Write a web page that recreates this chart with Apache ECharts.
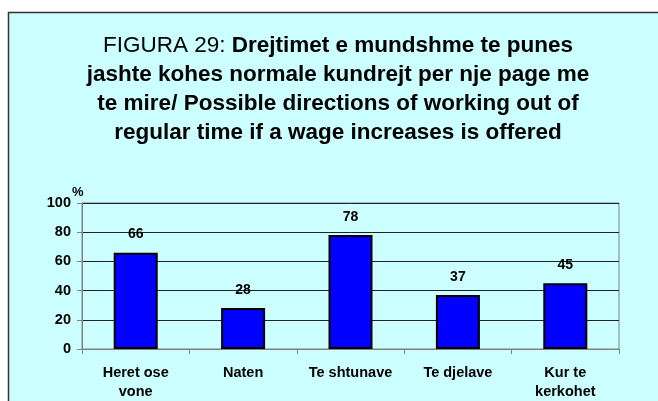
<!DOCTYPE html>
<html><head><meta charset="utf-8">
<script src="https://cdn.jsdelivr.net/npm/echarts@6/dist/echarts.min.js"></script>
<style>html,body{margin:0;padding:0;background:#fff}#c{width:658px;height:401px}</style>
</head><body><div id="c"></div>
<script>
const categories = ['Heret ose\nvone', 'Naten', 'Te shtunave', 'Te djelave', 'Kur te\nkerkohet'];
const values = [66, 28, 78, 37, 45];
const yTicks = { min: 0, max: 100, interval: 20 };

const chart = echarts.init(document.getElementById('c'), null, { renderer: 'canvas' });
const FONT = 'Arial, "Liberation Sans", sans-serif';
chart.setOption({
  backgroundColor: '#ffffff',
  animation: false,
  graphic: [{
    type: 'rect', z: -10, silent: true,
    shape: { x: 8.5, y: 12.5, width: 700, height: 500 },
    style: { fill: '#ccffff', stroke: '#333333', lineWidth: 1.5 }
  }, {
    type: 'text', left: 72, top: 186,
    style: { text: '%', font: 'bold 13px ' + FONT, fill: '#000' }
  }],
  title: {
    left: 333, top: 26, textAlign: 'center',
    text: '{n|FIGURA 29: }{b|Drejtimet e mundshme te punes}\n{b|jashte kohes normale kundrejt per nje page me}\n{b|te mire/ Possible directions of working out of}\n{b|regular time if a wage increases is offered}',
    textStyle: {
      rich: {
        n: { fontFamily: FONT, fontSize: 22.5, fontWeight: 'normal', color: '#000', lineHeight: 29 },
        b: { fontFamily: FONT, fontSize: 22.5, fontWeight: 'bold', color: '#000', lineHeight: 29 }
      }
    }
  },
  grid: { left: 82, right: 39, top: 203, bottom: 52, show: true, borderColor: '#808080', borderWidth: 1, backgroundColor: 'transparent' },
  xAxis: {
    type: 'category', data: categories,
    axisLine: { lineStyle: { color: '#808080', width: 1 } },
    axisTick: { show: true, length: 5, lineStyle: { color: '#808080' } },
    axisLabel: { interval: 0, hideOverlap: false, color: '#000', fontFamily: FONT, fontWeight: 'bold', fontSize: 14.5, lineHeight: 19, margin: 14 }
  },
  yAxis: {
    type: 'value', min: yTicks.min, max: yTicks.max, interval: yTicks.interval,
    axisLine: { show: true, lineStyle: { color: '#808080', width: 1 } },
    axisTick: { show: true, length: 5, lineStyle: { color: '#808080' } },
    axisLabel: { color: '#000', fontFamily: FONT, fontWeight: 'bold', fontSize: 14.5, margin: 11 },
    splitLine: { lineStyle: { color: '#222222', width: 1 } }
  },
  series: [{
    type: 'bar', data: values, barWidth: 44,
    itemStyle: { color: '#0000ff', borderColor: '#000000', borderWidth: 2 },
    label: { show: true, position: 'top', distance: 11, color: '#000', fontFamily: FONT, fontWeight: 'bold', fontSize: 14 }
  }]
});
</script></body></html>
